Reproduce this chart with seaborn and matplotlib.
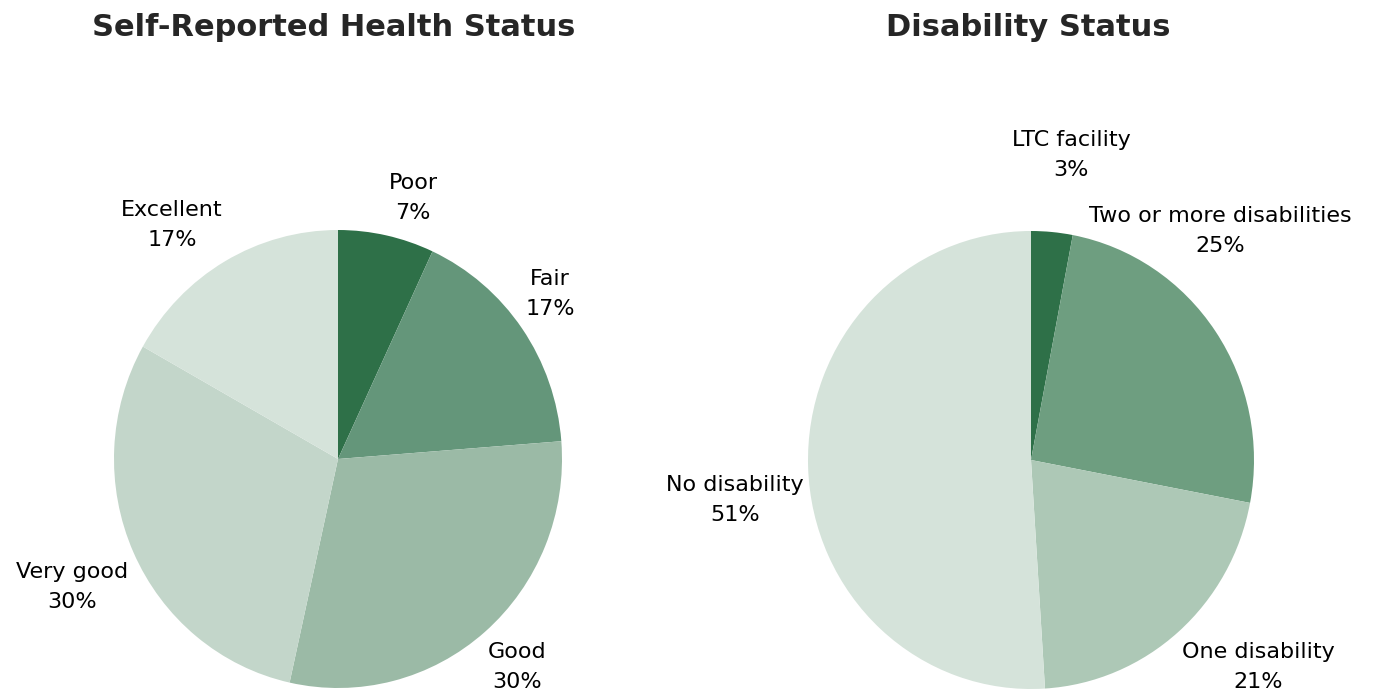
import matplotlib
matplotlib.use('Agg')
import matplotlib.pyplot as plt
import seaborn as sns

# data
health_labels = ['Poor', 'Fair', 'Good', 'Very good', 'Excellent']
health_values = [7, 17, 30, 30, 17]
health_colors = ['#2e7048', '#64967a', '#9bbaa6', '#c3d6ca', '#d5e3da']

disab_labels = ['LTC facility', 'Two or more disabilities', 'One disability', 'No disability']
disab_values = [3, 25, 21, 51]
disab_colors = ['#2e7048', '#6e9e80', '#adc8b6', '#d5e3da']

# label placement (in pie-radius units, like Excel's "best fit")
health_label_pos = [(0.335, 1.14), (0.946, 0.721), (0.799, -0.908), (-1.188, -0.559), (-0.741, 1.022)]
disab_label_pos = [(0.179, 1.332), (0.848, 1.0), (1.018, -0.904), (-1.327, -0.175)]

sns.set_theme(style='white')
plt.rcParams['font.family'] = ['DejaVu Sans']

fig = plt.figure(figsize=(13.82, 6.94), dpi=100)
W, H = 1382, 694


def draw_pie(cx, cy, rx, ry, labels, values, colors, label_pos):
    ax = fig.add_axes([(cx - rx) / W, (H - cy - ry) / H, 2 * rx / W, 2 * ry / H])
    ax.pie(values, colors=colors, startangle=90, counterclock=False, radius=1,
           wedgeprops=dict(linewidth=0))
    for l, v, (x, y) in zip(labels, values, label_pos):
        ax.text(x, y, f'{l}\n{v}%', ha='center', va='center', fontsize=16,
                color='black', linespacing=1.6)
    ax.set_xlim(-1, 1)
    ax.set_ylim(-1, 1)
    ax.set_aspect('auto')
    ax.axis('off')
    return ax


draw_pie(338, 459, 224, 229, health_labels, health_values, health_colors, health_label_pos)
draw_pie(1031, 460, 223, 229, disab_labels, disab_values, disab_colors, disab_label_pos)

fig.text(334 / W, 1 - 27 / H, 'Self-Reported Health Status', ha='center', va='center',
         fontsize=22, fontweight='bold', color='#262626')
fig.text(1028 / W, 1 - 27 / H, 'Disability Status', ha='center', va='center',
         fontsize=22, fontweight='bold', color='#262626')

fig.savefig('out.png', dpi=100)
